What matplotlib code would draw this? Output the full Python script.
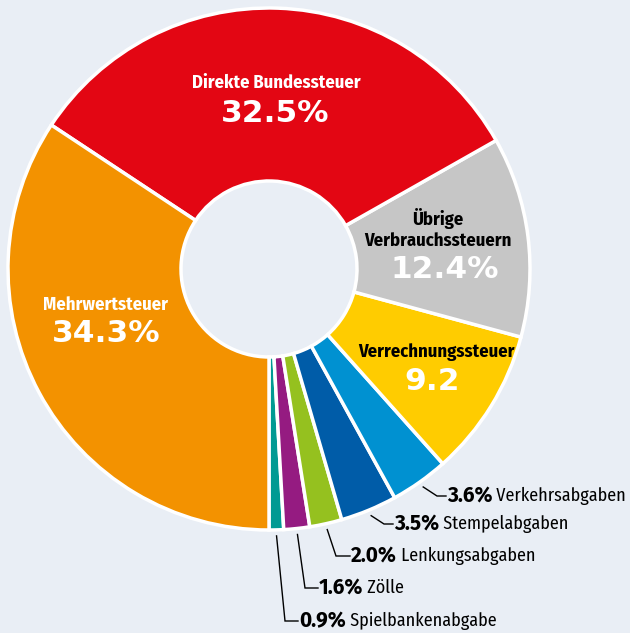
import matplotlib
matplotlib.use("Agg")
import matplotlib.pyplot as plt
import numpy as np

# ---- data ----
categories = ["Spielbankenabgabe", "Zölle", "Lenkungsabgaben", "Stempelabgaben",
              "Verkehrsabgaben", "Verrechnungssteuer", "Übrige\nVerbrauchssteuern",
              "Direkte Bundessteuer", "Mehrwertsteuer"]
values = [0.9, 1.6, 2.0, 3.5, 3.6, 9.2, 12.4, 32.5, 34.3]
value_labels = ["0.9%", "1.6%", "2.0%", "3.5%", "3.6%", "9.2", "12.4%", "32.5%", "34.3%"]
colors = ["#009a93", "#951b81", "#95c11f", "#005ca8", "#0091d1",
          "#ffcc00", "#c6c6c6", "#e30613", "#f39200"]

BG = "#e9eef5"
W, H = 630, 633
FONT = ["Fira Sans Condensed", "Roboto Condensed", "DejaVu Sans"]
NUMFONT = ["Fira Sans", "Open Sans", "DejaVu Sans"]
BIGFONT = ["DejaVu Sans"]

fig = plt.figure(figsize=(W / 100, H / 100), dpi=100, facecolor=BG)
ax = fig.add_axes([0, 0, 1, 1])
ax.set_facecolor(BG)

cx, cy = 269, H - 269
R = 261
hole = 88
wedges, _ = ax.pie(values, colors=colors, startangle=-90, counterclock=True,
                   radius=R, center=(cx, cy),
                   wedgeprops=dict(width=R - hole, edgecolor="white", linewidth=2.5))
ax.set_xlim(0, W)
ax.set_ylim(0, H)
ax.set_aspect("equal")
ax.axis("off")

def Y(py):
    return H - py

# inside labels: (index, name pos, name color, value pos, value color)
inside = {
    7: ((276, 83), "white", (275, 113), "white"),
    6: ((438, 229), "black", (445, 269), "white"),
    5: ((436, 352), "black", (432, 381), "white"),
    8: ((105, 305), "white", (106, 334), "white"),
}
for i, (npos, ncol, vpos, vcol) in inside.items():
    ax.text(npos[0], Y(npos[1]), categories[i], ha="center", va="center",
            fontsize=13.3, fontweight="bold", color=ncol, family=FONT,
            linespacing=1.2)
    ax.text(vpos[0], Y(vpos[1]), value_labels[i], ha="center", va="center",
            fontsize=22.5, fontweight="bold", color=vcol, family=BIGFONT)

# callouts for the small slices: elbow point and text start (pixel layout)
callouts = {
    4: ((437, 496), (446, 496)),
    3: ((384, 524), (393, 524)),
    2: ((336, 556), (350, 556)),
    1: ((305, 588), (318, 588)),
    0: ((285, 621), (298, 621)),
}
cum = np.cumsum([0] + values)
total = sum(values)
for i, (elbow, end) in callouts.items():
    mid = (cum[i] + cum[i + 1]) / 2 / total
    ang = np.deg2rad(-90 + 360 * mid)
    r0 = R + 6
    x0, y0 = cx + r0 * np.cos(ang), cy + r0 * np.sin(ang)
    ax.plot([x0, elbow[0], end[0]], [y0, Y(elbow[1]), Y(end[1])],
            color="black", lw=1.0, solid_joinstyle="miter")
    t = ax.text(end[0] + 1, Y(end[1]), value_labels[i], ha="left", va="center",
                fontsize=15, fontweight="bold", color="black", family=NUMFONT)
    ax.annotate(" " + categories[i], xycoords=t, xy=(1, 0.5), va="center",
                ha="left", fontsize=13, color="black", family=FONT)

fig.savefig("out.png", dpi=100, facecolor=BG)
